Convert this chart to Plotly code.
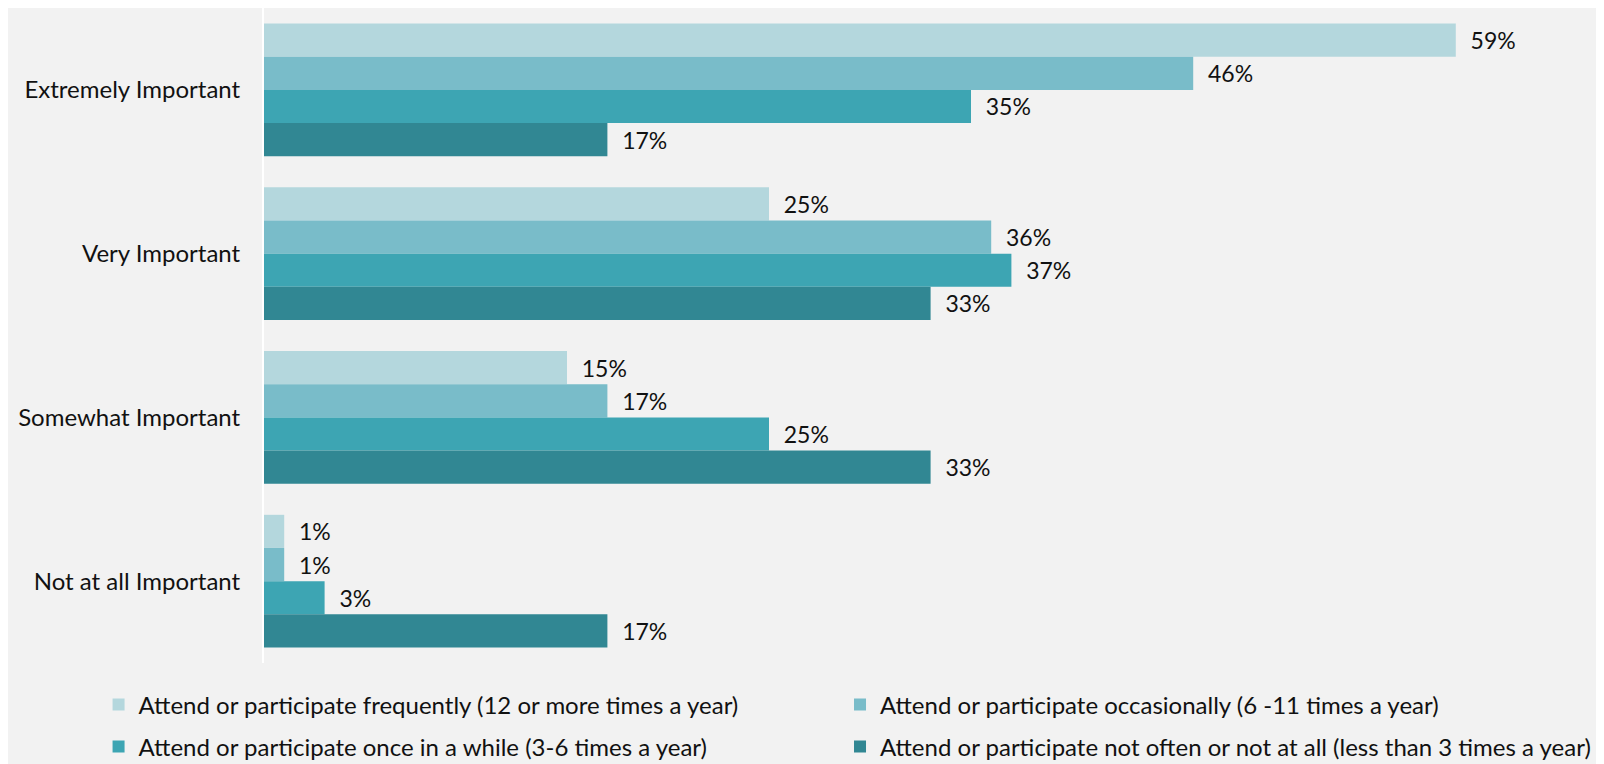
import plotly.graph_objects as go

categories = ["Extremely Important", "Very Important", "Somewhat Important", "Not at all Important"]

series_names = [
    "Attend or participate frequently (12 or more times a year)",
    "Attend or participate occasionally (6 -11 times a year)",
    "Attend or participate once in a while (3-6 times a year)",
    "Attend or participate not often or not at all (less than 3 times a year)",
]
frequently = [59, 25, 15, 1]
occasionally = [46, 36, 17, 1]
once_in_a_while = [35, 37, 25, 3]
not_often = [17, 33, 33, 17]

series_values = [frequently, occasionally, once_in_a_while, not_often]
series_colors = ["#B4D7DD", "#79BCC9", "#3DA5B3", "#318793"]

FONT = "Lato"
TEXT_COLOR = "#111111"

# one legend per entry so the 2x2 grid can be laid out freely
legend_ids = ["legend", "legend2", "legend3", "legend4"]
legend_x = [-0.126, 0.4387, -0.126, 0.4387]
legend_y = [-0.0641, -0.0641, -0.128, -0.128]

fig = go.Figure()

for name, values, color, legend_id in zip(series_names, series_values, series_colors, legend_ids):
    fig.add_trace(
        go.Bar(
            y=categories,
            x=values,
            orientation="h",
            name=name,
            legend=legend_id,
            marker=dict(color=color, line=dict(width=0)),
            text=values,
            texttemplate="  %{x}%",
            textposition="outside",
            textfont=dict(family=FONT, size=23, color=TEXT_COLOR),
            cliponaxis=False,
        )
    )

legends = {}
for legend_id, lx, ly in zip(legend_ids, legend_x, legend_y):
    legends[legend_id] = dict(
        orientation="h",
        x=lx,
        y=ly,
        xanchor="left",
        yanchor="middle",
        font=dict(family=FONT, size=24, color=TEXT_COLOR),
        bgcolor="rgba(0,0,0,0)",
    )

fig.update_layout(
    width=1604,
    height=764,
    barmode="group",
    bargap=0.19,
    bargroupgap=0,
    paper_bgcolor="#F2F2F2",
    plot_bgcolor="#F2F2F2",
    font=dict(family=FONT, size=24, color=TEXT_COLOR),
    margin=dict(l=256, r=35, t=0, b=109, autoexpand=False),
    xaxis=dict(
        range=[0, 65],
        showgrid=False,
        zeroline=False,
        showticklabels=False,
        showline=False,
    ),
    yaxis=dict(
        autorange="reversed",
        showgrid=False,
        zeroline=False,
        showline=True,
        linecolor="#FFFFFF",
        linewidth=2,
        ticks="",
        ticklabelstandoff=17,
        tickfont=dict(family=FONT, size=24, color=TEXT_COLOR),
    ),
    showlegend=True,
    **legends,
)

fig.write_html("out.html")
